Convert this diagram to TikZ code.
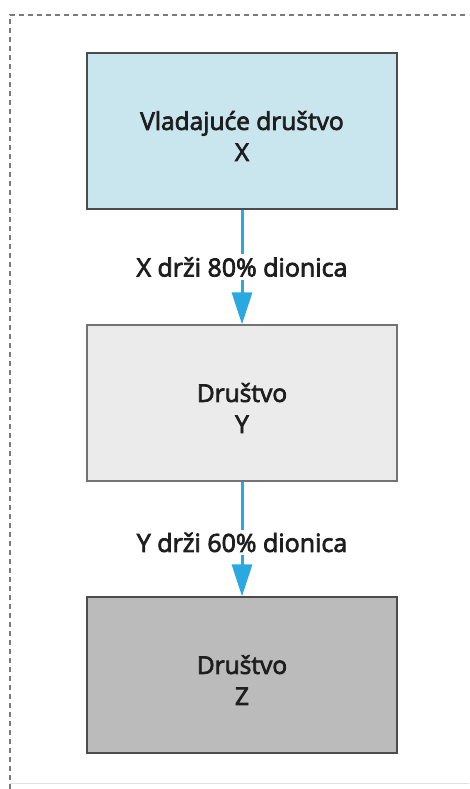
\documentclass[tikz,border=0pt]{standalone}
\usepackage{fontspec}
\newfontfamily\lbl{Open Sans}[FakeBold=3]
\usetikzlibrary{arrows.meta}
\definecolor{arrowcyan}{HTML}{29A9DF}
\definecolor{framegray}{HTML}{7A7A7A}
\definecolor{boxblue}{HTML}{C9E5EE}
\definecolor{boxlight}{HTML}{EBEBEB}
\definecolor{boxdark}{HTML}{BBBBBB}
\definecolor{inktext}{HTML}{1E1E1E}
\tikzset{
  company/.style={draw=black!70, line width=1.2pt, minimum width=310pt, minimum height=156pt},
  boxtext/.style={align=center, font=\lbl\fontsize{24.5}{31}\selectfont, text=inktext, inner sep=0pt},
  holds/.style={-{Triangle[length=32pt,width=20pt]}, draw=arrowcyan, fill=arrowcyan, line width=3pt},
  share/.style={fill=white, inner sep=3pt, font=\lbl\fontsize{25}{28}\selectfont, text=inktext}
}
\begin{document}
\begin{tikzpicture}[x=1pt,y=-1pt]
\useasboundingbox (0,0) rectangle (469,789);
\fill[white] (0,0) rectangle (469,789);
\draw[framegray, line width=1.2pt, dash pattern=on 5pt off 4pt] (10,789) -- (10,15) -- (469,15);
\draw[black!12, line width=0.8pt] (10,783) -- (469,783);
\node[company, fill=boxblue] (x) at (242,131) {};
\node[company, fill=boxlight, draw=black!55] (y) at (242,403) {};
\node[company, fill=boxdark] (z) at (242,675) {};
\node[boxtext] (xt) at ([yshift=-5pt]x.center) {Vladajuće društvo\\X};
\node[boxtext] (yt) at ([yshift=-5pt]y.center) {Društvo\\Y};
\node[boxtext] (zt) at ([yshift=-5pt]z.center) {Društvo\\Z};
\draw[holds] (x.south) -- (y.north) node[share, pos=0.5] {X drži 80\% dionica};
\draw[holds] (y.south) -- (z.north) node[share, pos=0.53] {Y drži 60\% dionica};
\end{tikzpicture}
\end{document}
